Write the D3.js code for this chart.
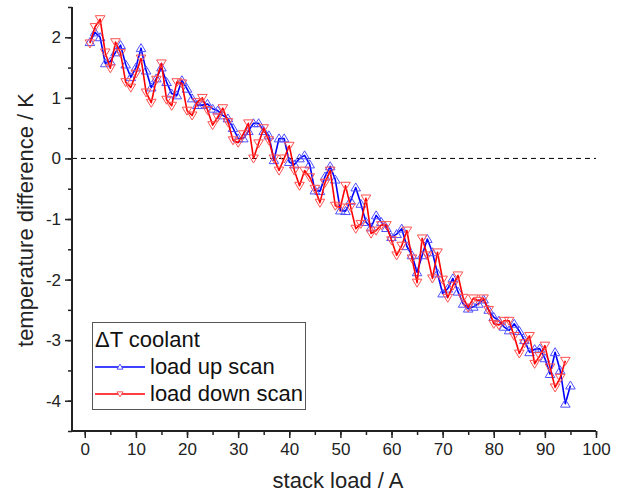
<!DOCTYPE html>
<html>
<head>
<meta charset="utf-8">
<script src="https://cdn.jsdelivr.net/npm/d3@7"></script>
<style>
  body { margin: 0; background: #fff; }
  svg { font-family: "Liberation Sans", Arial, sans-serif; }
</style>
</head>
<body>
<div id="chart"></div>
<script>
// stack load (A) for each scan point
const loadUp = d3.range(1, 96);
const loadDown = d3.range(1, 95);

// temperature difference (K), load up scan
const dtUp = [
  1.92, 2.08, 2.0, 1.57, 1.6, 1.75, 1.87, 1.55, 1.34, 1.5,
  1.82, 1.45, 1.17, 1.32, 1.5, 1.26, 1.07, 1.04, 1.29, 1.15,
  0.99, 0.88, 0.88, 0.9, 0.82, 0.79, 0.71, 0.66, 0.5, 0.33,
  0.33, 0.45, 0.58, 0.58, 0.45, 0.38, -0.03, 0.33, 0.33, -0.06,
  -0.1, 0.0, 0.05, -0.1, -0.53, -0.54, -0.3, -0.13, -0.35, -0.86,
  -0.87, -0.7, -0.48, -0.75, -1.05, -1.14, -0.94, -1.05, -1.15, -1.3,
  -1.25, -1.16, -1.45, -1.6, -1.88, -1.6, -1.33, -1.55, -1.9, -2.23,
  -2.15, -1.98, -2.2, -2.4, -2.48, -2.45, -2.4, -2.33, -2.5, -2.62,
  -2.68, -2.78, -2.84, -2.73, -2.85, -3.0, -3.2, -3.15, -3.14, -3.3,
  -3.56, -3.2, -3.5, -4.05, -3.75
];

// temperature difference (K), load down scan
const dtDown = [
  1.9, 2.17, 2.3, 1.75, 1.49, 1.92, 1.74, 1.26, 1.17, 1.4,
  1.65, 1.09, 0.92, 1.3, 1.57, 0.97, 0.87, 1.26, 1.24, 0.79,
  0.71, 0.93, 1.0, 0.8, 0.55, 0.68, 0.83, 0.6, 0.3, 0.26,
  0.4, 0.58, 0.0, 0.25, 0.5, 0.3, 0.0, -0.2, 0.0, 0.21,
  -0.2, -0.45, -0.2, -0.31, -0.5, -0.73, -0.4, -0.2, -0.78, -0.81,
  -0.45, -0.8, -1.16, -1.08, -0.66, -1.24, -1.19, -1.1, -1.1, -1.35,
  -1.6, -1.44, -1.19, -1.65, -2.05, -1.32, -1.6, -1.98, -1.55, -2.0,
  -2.3, -2.1, -1.93, -2.3, -2.46, -2.31, -2.35, -2.31, -2.5, -2.73,
  -2.75, -2.68, -2.68, -2.93, -3.22, -3.05, -2.93, -3.39, -3.26, -3.09,
  -3.45, -3.78, -3.62, -3.34
];

const xTicks = [0, 10, 20, 30, 40, 50, 60, 70, 80, 90, 100];
const yTicks = [-4, -3, -2, -1, 0, 1, 2];
const legendTitle = "ΔT coolant";
const seriesNames = ["load up scan", "load down scan"];

const width = 621, height = 495;
const svg = d3.select("#chart").append("svg")
  .attr("width", width)
  .attr("height", height);

const x = d3.scaleLinear().domain([-2.5, 100]).range([72, 596]);
const y = d3.scaleLinear().domain([-4.5, 2.5]).range([431, 7]);

// zero line
svg.append("line")
  .attr("x1", x.range()[0]).attr("x2", x.range()[1])
  .attr("y1", y(0)).attr("y2", y(0))
  .attr("stroke", "#000")
  .attr("stroke-width", 1)
  .attr("stroke-dasharray", "5,4");

// axes
const xMinor = svg.append("g")
  .attr("transform", `translate(0,${y.range()[0]})`)
  .call(d3.axisBottom(x).tickValues(d3.range(0, 101, 5)).tickSize(4).tickFormat(""));
xMinor.select(".domain").remove();
xMinor.selectAll(".tick line").attr("stroke", "#222").attr("stroke-width", 1.5);
const xMajor = svg.append("g")
  .attr("transform", `translate(0,${y.range()[0]})`)
  .call(d3.axisBottom(x).tickValues(xTicks).tickSize(7).tickPadding(5));
xMajor.select(".domain").attr("stroke", "#222").attr("stroke-width", 2)
  .attr("d", `M${x.range()[0]},0H${x.range()[1]}`);
xMajor.selectAll(".tick line").attr("stroke", "#222").attr("stroke-width", 1.5);
xMajor.selectAll("text").attr("font-size", 17).attr("fill", "#222")
  .attr("font-family", "Liberation Sans, Arial, sans-serif");

const yMinor = svg.append("g")
  .attr("transform", `translate(${x.range()[0]},0)`)
  .call(d3.axisLeft(y).tickValues(d3.range(-4.5, 2.51, 0.5)).tickSize(4).tickFormat(""));
yMinor.select(".domain").remove();
yMinor.selectAll(".tick line").attr("stroke", "#222").attr("stroke-width", 1.5);
const yMajor = svg.append("g")
  .attr("transform", `translate(${x.range()[0]},0)`)
  .call(d3.axisLeft(y).tickValues(yTicks).tickSize(7).tickPadding(4).tickFormat(d3.format("d")));
yMajor.select(".domain").attr("stroke", "#222").attr("stroke-width", 2)
  .attr("d", `M0,${y.range()[0] + 1}V${y.range()[1]}`);
yMajor.selectAll(".tick line").attr("stroke", "#222").attr("stroke-width", 1.5);
yMajor.selectAll("text").attr("font-size", 17).attr("fill", "#222")
  .attr("font-family", "Liberation Sans, Arial, sans-serif")
  .text(d => d < 0 ? "-" + Math.abs(d) : d);

// axis titles
svg.append("text")
  .attr("x", 338).attr("y", 488)
  .attr("text-anchor", "middle")
  .attr("font-size", 22).attr("fill", "#222")
  .text("stack load / A");
svg.append("text")
  .attr("transform", "translate(33,220) rotate(-90)")
  .attr("text-anchor", "middle")
  .attr("font-size", 22).attr("fill", "#222")
  .text("temperature difference / K");

// series
function triPath(up, s) {
  const h = s * 0.95;
  return up
    ? `M0,${-h}L${s},${h * 0.75}L${-s},${h * 0.75}Z`
    : `M0,${h}L${s},${-h * 0.75}L${-s},${-h * 0.75}Z`;
}

const series = [
  { xs: loadUp, ys: dtUp, color: "#0000ff", marker: "#5050ff", up: true },
  { xs: loadDown, ys: dtDown, color: "#ff0000", marker: "#ff5050", up: false }
];

series.forEach(s => {
  const pts = s.xs.map((v, i) => [v, s.ys[i]]);
  const line = d3.line().x(d => x(d[0])).y(d => y(d[1]));
  svg.append("path")
    .datum(pts)
    .attr("d", line)
    .attr("fill", "none")
    .attr("stroke", s.color)
    .attr("stroke-width", 1.6)
    .attr("stroke-linejoin", "round");
  svg.append("g").selectAll("path")
    .data(pts)
    .join("path")
    .attr("transform", d => `translate(${x(d[0])},${y(d[1])})`)
    .attr("d", triPath(s.up, 4.8))
    .attr("fill", "none")
    .attr("stroke", s.marker)
    .attr("stroke-width", 1);
});

// legend
const lg = svg.append("g");
lg.append("rect")
  .attr("x", 92.5).attr("y", 322.5)
  .attr("width", 213).attr("height", 87)
  .attr("fill", "#fff")
  .attr("stroke", "#555").attr("stroke-width", 1);
lg.append("text")
  .attr("x", 95).attr("y", 347)
  .attr("font-size", 22).attr("fill", "#111")
  .text(legendTitle);
series.forEach((s, i) => {
  const yy = 367 + i * 27;
  lg.append("line")
    .attr("x1", 95).attr("x2", 145)
    .attr("y1", yy).attr("y2", yy)
    .attr("stroke", s.color).attr("stroke-width", 1.6);
  lg.append("path")
    .attr("transform", `translate(120,${yy})`)
    .attr("d", triPath(s.up, 3))
    .attr("fill", "#fff")
    .attr("stroke", s.marker).attr("stroke-width", 1);
  lg.append("text")
    .attr("x", 150).attr("y", yy + 7)
    .attr("font-size", 22).attr("fill", "#111")
    .text(seriesNames[i]);
});
</script>
</body>
</html>
